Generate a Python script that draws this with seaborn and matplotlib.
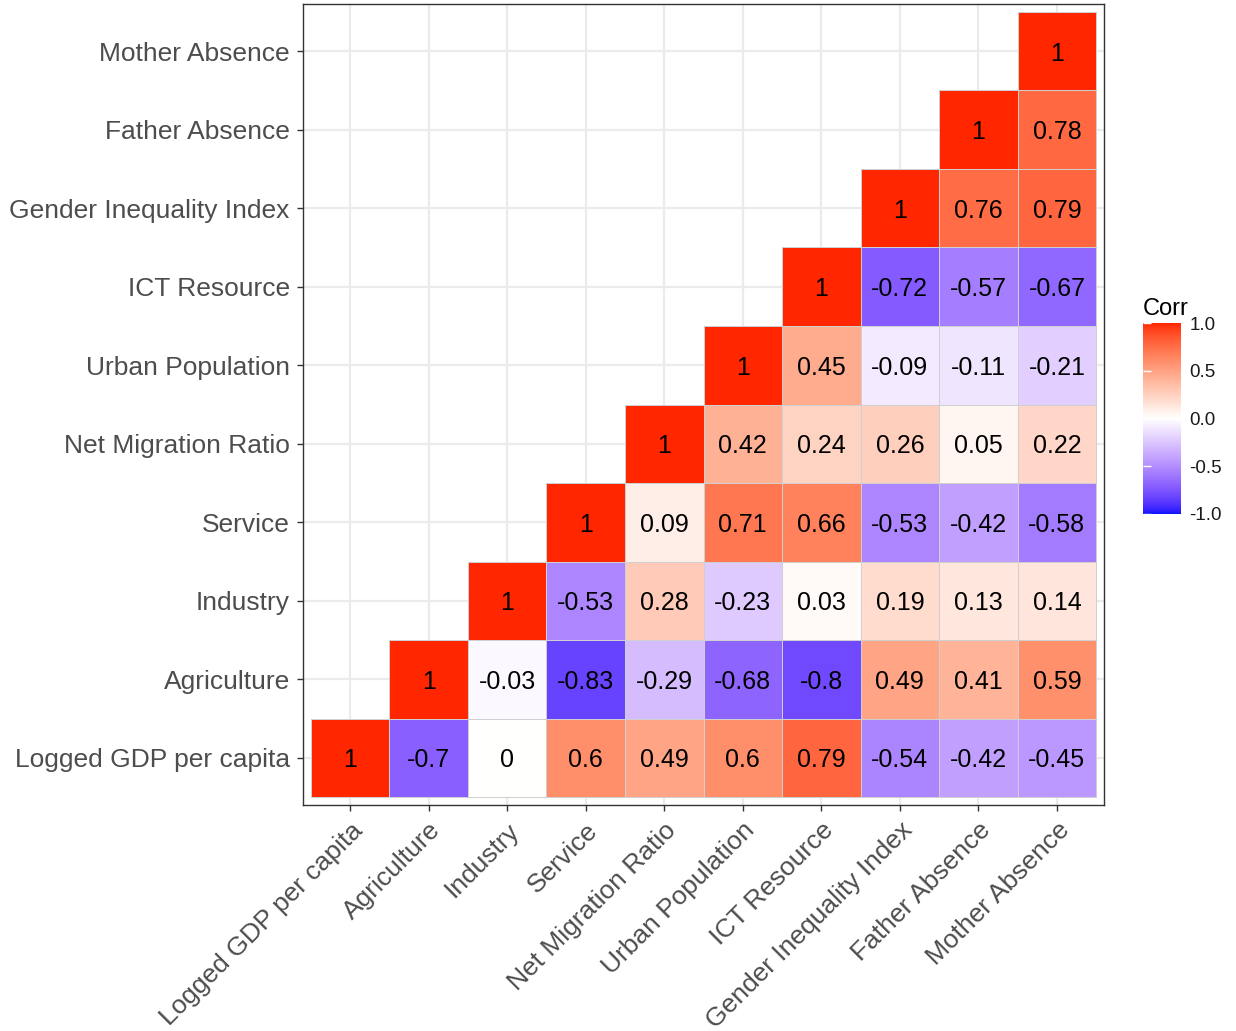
import numpy as np
import pandas as pd
import matplotlib
matplotlib.use("Agg")
import matplotlib.pyplot as plt
from matplotlib.colors import ListedColormap
import seaborn as sns

# Variables, in axis order (bottom-to-top on y, left-to-right on x)
labels = [
    "Logged GDP per capita", "Agriculture", "Industry", "Service",
    "Net Migration Ratio", "Urban Population", "ICT Resource",
    "Gender Inequality Index", "Father Absence", "Mother Absence",
]

# Pairwise correlations, one list per variable
corr_gdp      = [1, -0.7, 0, 0.6, 0.49, 0.6, 0.79, -0.54, -0.42, -0.45]
corr_agri     = [-0.7, 1, -0.03, -0.83, -0.29, -0.68, -0.8, 0.49, 0.41, 0.59]
corr_industry = [0, -0.03, 1, -0.53, 0.28, -0.23, 0.03, 0.19, 0.13, 0.14]
corr_service  = [0.6, -0.83, -0.53, 1, 0.09, 0.71, 0.66, -0.53, -0.42, -0.58]
corr_migr     = [0.49, -0.29, 0.28, 0.09, 1, 0.42, 0.24, 0.26, 0.05, 0.22]
corr_urban    = [0.6, -0.68, -0.23, 0.71, 0.42, 1, 0.45, -0.09, -0.11, -0.21]
corr_ict      = [0.79, -0.8, 0.03, 0.66, 0.24, 0.45, 1, -0.72, -0.57, -0.67]
corr_gii      = [-0.54, 0.49, 0.19, -0.53, 0.26, -0.09, -0.72, 1, 0.76, 0.79]
corr_father   = [-0.42, 0.41, 0.13, -0.42, 0.05, -0.11, -0.57, 0.76, 1, 0.78]
corr_mother   = [-0.45, 0.59, 0.14, -0.58, 0.22, -0.21, -0.67, 0.79, 0.78, 1]

legend_ticks = [-1.0, -0.5, 0.0, 0.5, 1.0]

rows = [corr_gdp, corr_agri, corr_industry, corr_service, corr_migr,
        corr_urban, corr_ict, corr_gii, corr_father, corr_mother]
corr = pd.DataFrame(rows, index=labels, columns=labels)
# heatmap draws the first row at the top, so flip the rows
corr_disp = corr.iloc[::-1]
n = len(labels)
mask = np.zeros((n, n), dtype=bool)
for r in range(n):
    for c in range(n):
        if c < (n - 1 - r):
            mask[r, c] = True


# Diverging blue-white-red palette interpolated in CIELAB
def _srgb_to_lab(rgb):
    rgb = np.asarray(rgb, float)
    lin = np.where(rgb <= 0.04045, rgb / 12.92, ((rgb + 0.055) / 1.055) ** 2.4)
    M = np.array([[0.4124, 0.3576, 0.1805],
                  [0.2126, 0.7152, 0.0722],
                  [0.0193, 0.1192, 0.9505]])
    xyz = M @ lin
    wp = np.array([0.95047, 1.0, 1.08883])
    t = xyz / wp
    f = np.where(t > (6 / 29) ** 3, np.cbrt(t), t / (3 * (6 / 29) ** 2) + 4 / 29)
    return np.array([116 * f[1] - 16, 500 * (f[0] - f[1]), 200 * (f[1] - f[2])])


def _lab_to_srgb(lab):
    L, a, b = lab
    fy = (L + 16) / 116
    fx = fy + a / 500
    fz = fy - b / 200
    d = 6 / 29
    def finv(f):
        return f ** 3 if f > d else 3 * d * d * (f - 4 / 29)
    wp = np.array([0.95047, 1.0, 1.08883])
    xyz = np.array([finv(fx), finv(fy), finv(fz)]) * wp
    Minv = np.array([[3.2406, -1.5372, -0.4986],
                     [-0.9689, 1.8758, 0.0415],
                     [0.0557, -0.2040, 1.0570]])
    lin = Minv @ xyz
    lin = np.clip(lin, 0, 1)
    srgb = np.where(lin <= 0.0031308, 12.92 * lin, 1.055 * lin ** (1 / 2.4) - 0.055)
    return np.clip(srgb, 0, 1)


low = np.array([0x00, 0x10, 0xFF]) / 255
mid = np.array([1.0, 1.0, 1.0])
high = np.array([0xFF, 0x26, 0x00]) / 255
lab_low, lab_mid, lab_high = _srgb_to_lab(low), _srgb_to_lab(mid), _srgb_to_lab(high)
cols = []
for v in np.linspace(-1, 1, 512):
    if v < 0:
        lab = lab_mid + (-v) * (lab_low - lab_mid)
    else:
        lab = lab_mid + v * (lab_high - lab_mid)
    cols.append(_lab_to_srgb(lab))
cmap = ListedColormap(cols)

sns.set_style("white")
plt.rcParams["font.family"] = ["Liberation Sans", "DejaVu Sans"]
plt.rcParams["axes.unicode_minus"] = False

W, H = 1236, 1031
fig = plt.figure(figsize=(W / 100, H / 100), dpi=100)
ax = fig.add_axes([303 / W, 1 - 805 / H, (1104 - 303) / W, (805 - 4) / H])
cax = fig.add_axes([1143 / W, 1 - 514 / H, 38 / W, (514 - 323) / H])

sns.heatmap(
    corr_disp, mask=mask, cmap=cmap, vmin=-1, vmax=1,
    annot=True, fmt="g", annot_kws={"size": 18, "color": "black"},
    linewidths=0.7, linecolor="#CFCFCF", square=False,
    ax=ax, cbar_ax=cax,
)
for t in ax.texts:
    t.set_va("center_baseline")

# Outline only the visible tiles
mesh = ax.collections[0]
edge = np.array([[0, 0, 0, 0] if m else [0.81, 0.81, 0.81, 1.0]
                 for m in mask.ravel()])
mesh.set_edgecolor(edge)

ax.set_xlim(-0.1, n + 0.1)
ax.set_ylim(n + 0.1, -0.1)
ax.set_xlabel("")
ax.set_ylabel("")
ax.set_facecolor("white")

# Background grid at the category centres
ax.set_axisbelow(True)
ax.grid(True, color="#EBEBEB", linewidth=1.6)
ax.set_xticks(np.arange(n) + 0.5)
ax.set_yticks(np.arange(n) + 0.5)
ax.set_xticklabels(labels, rotation=45, ha="right", va="top",
                   rotation_mode="anchor", fontsize=19, color="#4D4D4D")
ax.set_yticklabels(corr_disp.index, rotation=0, fontsize=19, color="#4D4D4D",
                   va="center_baseline")
ax.tick_params(axis="both", which="both", length=4.5, width=1.0,
               color="#333333", pad=5, left=True, bottom=True)
for s in ax.spines.values():
    s.set_visible(True)
    s.set_color("#333333")
    s.set_linewidth(1.0)

# Legend bar
cbar = mesh.colorbar
cbar.set_ticks(legend_ticks)
cbar.set_ticklabels([f"{t:.1f}" for t in legend_ticks])
cbar.outline.set_visible(False)
cax.tick_params(axis="y", direction="in", length=7, width=1.0, color="white",
                labelsize=13.5, labelcolor="#1A1A1A", pad=6)
cax.hlines(legend_ticks, 0, 0.2, transform=cax.get_yaxis_transform(),
           color="white", linewidth=1.0)
fig.text(1143 / W, 1 - 315 / H, "Corr", fontsize=17, ha="left", va="baseline",
         color="black")

fig.savefig("out.png", dpi=100, facecolor="white")
